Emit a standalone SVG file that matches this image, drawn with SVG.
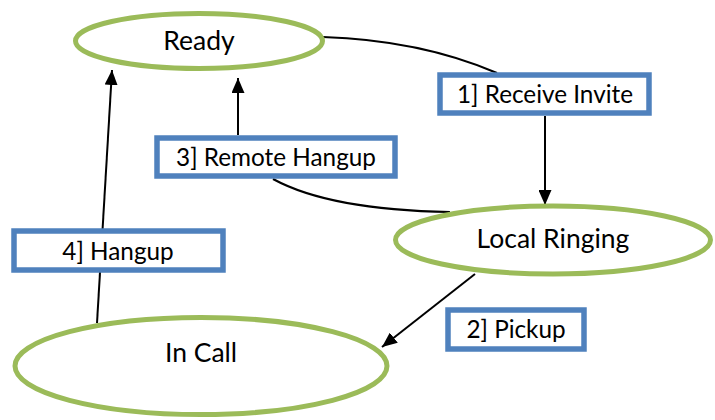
<svg xmlns="http://www.w3.org/2000/svg" width="715" height="420" viewBox="0 0 715 420">
<style>
.node{fill:#fff;stroke:#9BBB59;stroke-width:5}
.lbl{fill:#fff;stroke:#4F81BD;stroke-width:5.5}
.t{font-family:Lato,"Open Sans",sans-serif;fill:#000;text-anchor:middle}
.nt{font-size:26.5px}
.bt{font-size:24.3px}
.c{fill:none;stroke:#000;stroke-width:2}
</style>
<defs>
<marker id="ah" viewBox="0 0 15 13" refX="15" refY="6.5" markerWidth="15" markerHeight="13" markerUnits="userSpaceOnUse" orient="auto">
<path d="M0,0L15,6.5L0,13z" fill="#000"/>
</marker>
</defs>
<rect width="715" height="420" fill="#fff"/>
<g id="connectors">
<path class="c" d="M323,37Q420,40 497,73"/>
<path class="c" d="M545,116L545,205" marker-end="url(#ah)"/>
<path class="c" d="M273,179Q330,210 450,212"/>
<path class="c" d="M238,135L238,78" marker-end="url(#ah)"/>
<path class="c" d="M97,323L112,70" marker-end="url(#ah)"/>
<path class="c" d="M475,274L382,347" marker-end="url(#ah)"/>
</g>
<g id="ready">
<ellipse class="node" cx="199" cy="41" rx="123.5" ry="27.5"/>
<text class="t nt" x="199" y="50">Ready</text>
</g>
<g id="local-ringing">
<ellipse class="node" cx="553" cy="240" rx="157.5" ry="34"/>
<text class="t nt" x="553" y="248">Local Ringing</text>
</g>
<g id="in-call">
<ellipse class="node" cx="201" cy="366" rx="186" ry="48.5"/>
<text class="t nt" x="201" y="362">In Call</text>
</g>
<g id="lbl-receive">
<rect class="lbl" x="440" y="75" width="209" height="38"/>
<text class="t bt" x="545" y="103">1] Receive Invite</text>
</g>
<g id="lbl-remote">
<rect class="lbl" x="157" y="138" width="238" height="38"/>
<text class="t bt" x="276" y="166">3] Remote Hangup</text>
</g>
<g id="lbl-hangup">
<rect class="lbl" x="14" y="231" width="209" height="39"/>
<text class="t bt" x="118" y="260">4] Hangup</text>
</g>
<g id="lbl-pickup">
<rect class="lbl" x="448" y="310" width="136" height="39"/>
<text class="t bt" x="516" y="338">2] Pickup</text>
</g>
</svg>
